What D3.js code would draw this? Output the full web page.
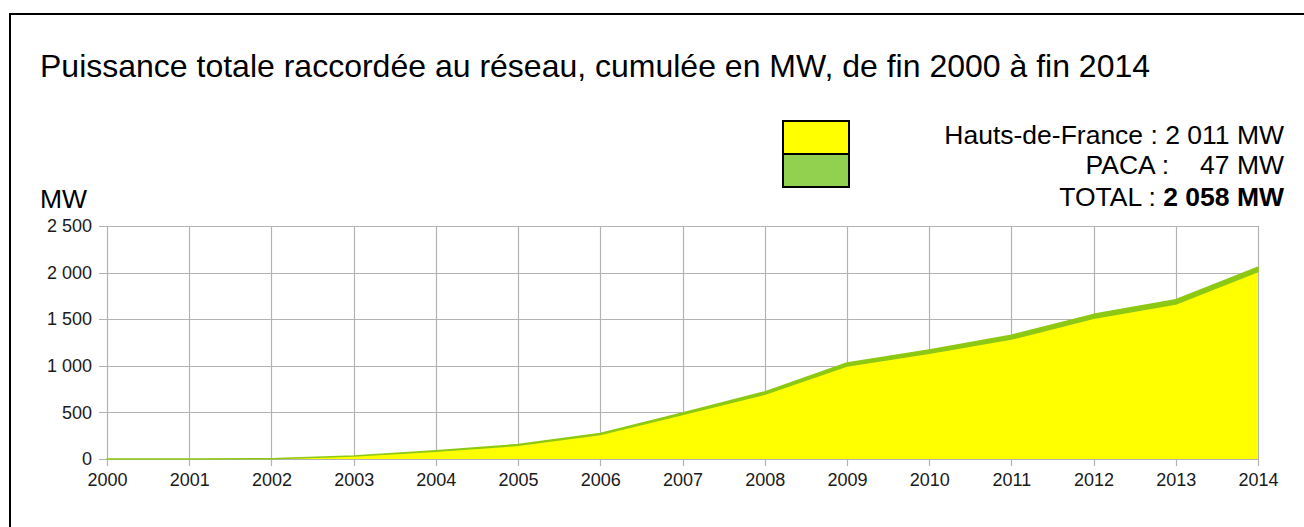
<!DOCTYPE html>
<html>
<head>
<meta charset="utf-8">
<script src="https://cdn.jsdelivr.net/npm/d3@7.9.0/dist/d3.min.js"></script>
<style>
  body { margin: 0; background: #fff; }
  svg { display: block; font-family: 'Liberation Sans', Arial, sans-serif; }
  .axis text { font-size: 18px; fill: #1a1a1a; font-family: 'Liberation Sans', Arial, sans-serif; }
</style>
</head>
<body>
<svg id="chart" width="1304" height="527"></svg>
<script>
const years = [2000, 2001, 2002, 2003, 2004, 2005, 2006, 2007, 2008, 2009, 2010, 2011, 2012, 2013, 2014];
const hautsDeFrance = [0, 0, 3, 31, 83, 147, 263, 477, 695, 998, 1134, 1287, 1509, 1663, 2011];
const paca = [0, 0, 0, 2, 5, 8, 12, 18, 25, 32, 36, 40, 43, 45, 47];
const yTicks = [0, 500, 1000, 1500, 2000, 2500];

const title = 'Puissance totale raccordée au réseau, cumulée en MW, de fin 2000 à fin 2014';
const legendLines = [
  { label: 'Hauts-de-France : 2 011 MW' },
  { label: 'PACA :', value: '47 MW' },
  { label: 'TOTAL : ', value: '2 058 MW', bold: true }
];

const svg = d3.select('#chart');
const margin = { left: 107, right: 1258, top: 226, bottom: 459 };

const x = d3.scaleLinear().domain([2000, 2014]).range([margin.left, margin.right]);
const y = d3.scaleLinear().domain([0, 2500]).range([margin.bottom, margin.top]);

// outer frame
svg.append('rect')
  .attr('x', 10).attr('y', 14)
  .attr('width', 1400).attr('height', 600)
  .attr('fill', 'none').attr('stroke', '#000').attr('stroke-width', 2);

svg.append('text')
  .attr('x', 40).attr('y', 77)
  .attr('font-size', 32)
  .attr('fill', '#000')
  .text(title);

// legend swatches
const swatch = svg.append('g');
swatch.append('rect').attr('x', 783).attr('y', 121).attr('width', 66).attr('height', 33)
  .attr('fill', '#ffff00').attr('stroke', '#000').attr('stroke-width', 2);
swatch.append('rect').attr('x', 783).attr('y', 154).attr('width', 66).attr('height', 33)
  .attr('fill', '#92d050').attr('stroke', '#000').attr('stroke-width', 2);

const legendText = svg.append('g').attr('font-size', 26.5).attr('fill', '#000');
legendText.append('text').attr('x', 1284).attr('y', 144).attr('text-anchor', 'end')
  .text(legendLines[0].label);
legendText.append('text').attr('x', 1169).attr('y', 174).attr('text-anchor', 'end')
  .text(legendLines[1].label);
legendText.append('text').attr('x', 1284).attr('y', 174).attr('text-anchor', 'end')
  .text(legendLines[1].value);
const total = legendText.append('text').attr('x', 1284).attr('y', 206).attr('text-anchor', 'end');
total.append('tspan').text(legendLines[2].label);
total.append('tspan').attr('font-weight', 'bold').text(legendLines[2].value);

svg.append('text')
  .attr('x', 40).attr('y', 208)
  .attr('font-size', 26.5)
  .text('MW');

// grid
const grid = svg.append('g').attr('stroke', '#b3b3b3').attr('stroke-width', 1.2);
yTicks.forEach((t) => {
  grid.append('line')
    .attr('x1', margin.left - 8).attr('x2', margin.right)
    .attr('y1', Math.round(y(t)) + 0.5).attr('y2', Math.round(y(t)) + 0.5);
});
years.forEach((yr) => {
  grid.append('line')
    .attr('x1', Math.round(x(yr)) + 0.5).attr('x2', Math.round(x(yr)) + 0.5)
    .attr('y1', margin.top).attr('y2', margin.bottom + 7);
});

// stacked areas
const rows = years.map((yr, i) => ({ year: yr, hdf: hautsDeFrance[i], paca: paca[i] }));
const series = d3.stack().keys(['hdf', 'paca'])(rows);
const colors = { hdf: '#ffff00', paca: '#8cc814' };
const area = d3.area()
  .x((d) => x(d.data.year))
  .y0((d) => y(d[0]))
  .y1((d) => y(d[1]));

svg.append('g').selectAll('path')
  .data(series)
  .join('path')
  .attr('d', area)
  .attr('fill', (d) => colors[d.key])
  .attr('stroke', (d) => d.key === 'paca' ? colors[d.key] : 'none')
  .attr('stroke-width', 1.5)
  .attr('stroke-linejoin', 'round');

// axes labels
const yAxis = d3.axisLeft(y).tickValues(yTicks).tickSize(0).tickPadding(15)
  .tickFormat((d) => d3.format(',')(d).replace(',', ' '));
svg.append('g')
  .attr('class', 'axis')
  .attr('transform', `translate(${margin.left},0)`)
  .call(yAxis)
  .call((g) => g.select('.domain').remove());

const xAxis = d3.axisBottom(x).tickValues(years).tickSize(0).tickPadding(14)
  .tickFormat(d3.format('d'));
svg.append('g')
  .attr('class', 'axis')
  .attr('transform', `translate(0,${margin.bottom})`)
  .call(xAxis)
  .call((g) => g.select('.domain').remove());
</script>
</body>
</html>
